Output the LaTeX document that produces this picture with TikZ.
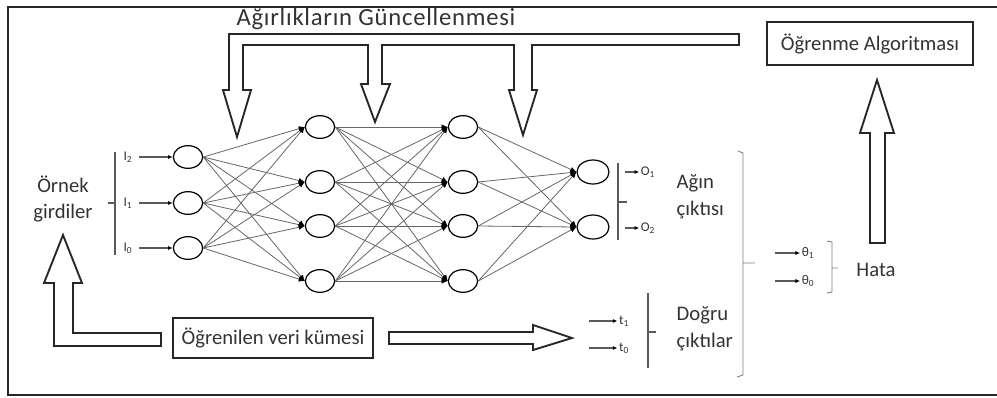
\documentclass[tikz,border=0pt]{standalone}
\usepackage{fontspec}
\setmainfont{Carlito}
\usetikzlibrary{arrows.meta,shapes.geometric}

\begin{document}
\begin{tikzpicture}[x=0.75pt, y=-0.75pt, font=\fontsize{15.5}{20}\selectfont, text=black!80,
  unit/.style={draw, ellipse, line width=0.9pt, minimum width=22pt, minimum height=17pt, inner sep=0pt},
  link/.style={black!60, line width=0.6pt, -{Latex[length=4.5pt,width=4pt,color=black]}},
  feed/.style={black!65, line width=0.8pt, -{Latex[length=3.5pt,width=3pt,color=black]}},
  lbl/.style={font=\fontsize{10}{11}\selectfont, inner sep=1pt},
  bar/.style={black!65, line width=1.5pt},
  brk/.style={black!50, line width=0.7pt},
  hollow/.style={draw=black!85, line width=1.4pt, fill=white, line join=miter},
  box/.style={draw=black!85, line width=1.4pt, inner sep=0pt}]
\useasboundingbox (0,0) rectangle (997,397);
\draw[black!85, line width=1.5pt] (1000,7) -| (8,395) -- (1000,395);

% network: 3 inputs, two hidden layers of 4, 2 outputs
\node[unit] (i2) at (188,157) {};
\node[unit] (i1) at (188,203) {};
\node[unit] (i0) at (188,248) {};
\foreach \k/\y in {1/127,2/182,3/226,4/281} {
  \node[unit] (h\k) at (320,\y) {};
  \node[unit] (g\k) at (463,\y) {};
}
\node[unit, minimum width=24pt, minimum height=18pt] (o1) at (593,172) {};
\node[unit, minimum width=24pt, minimum height=18pt] (o2) at (593,227) {};
\foreach \a in {0,1,2} \foreach \b in {1,...,4}
  \draw[link] (i\a.east) -- (h\b.west);
\foreach \a in {1,...,4} \foreach \b in {1,...,4}
  \draw[link] (h\a.east) -- (g\b.west);
\foreach \a in {1,...,4} \foreach \b in {1,2}
  \draw[link] (g\a.east) -- (o\b.west);

% inputs
\node[lbl] (li2) at (128,157) {I\textsubscript{2}};
\node[lbl] (li1) at (128,203) {I\textsubscript{1}};
\node[lbl] (li0) at (128,248) {I\textsubscript{0}};
\draw[feed, shorten <=4pt] (li2) -- (i2);
\draw[feed, shorten <=4pt] (li1) -- (i1);
\draw[feed, shorten <=4pt] (li0) -- (i0);
\draw[bar] (115,152) -- (115,255) (108,203) -- (115,203);
\node[align=center] (ex) at (63,199) {Örnek\\girdiler};

% outputs
\node[lbl] (lo1) at (648,172) {O\textsubscript{1}};
\node[lbl] (lo2) at (648,228) {O\textsubscript{2}};
\draw[feed] ([xshift=-11pt]lo1.west) -- (lo1.west);
\draw[feed] ([xshift=-11pt]lo2.west) -- (lo2.west);
\draw[bar] (618,163) -- (618,240) (618,202) -- (627,202);
\node[align=left, anchor=west] (net) at (672,197) {Ağın\\çıktısı};

% targets
\node[lbl] (t1) at (624,321) {t\textsubscript{1}};
\node[lbl] (t0) at (624,348) {t\textsubscript{0}};
\draw[feed] ([xshift=-21pt]t1.west) -- (t1.west);
\draw[feed] ([xshift=-21pt]t0.west) -- (t0.west);
\draw[bar] (648,293) -- (648,368) (648,332) -- (656,332);
\node[align=left, anchor=west] (tgt) at (672,329) {Doğru\\çıktılar};

% error
\draw[brk] (738,151) -- (743,153) -- (743,375) -- (737,377) (743,263) -- (755,263);
\node[lbl] (e1) at (808,253) {θ\textsubscript{1}};
\node[lbl] (e0) at (808,281) {θ\textsubscript{0}};
\draw[feed] ([xshift=-19pt]e1.west) -- (e1.west);
\draw[feed] ([xshift=-19pt]e0.west) -- (e0.west);
\draw[brk] (827,241) -- (832,242) -- (832,292) -- (827,293) (832,268) -- (838,268);
\node (err) at (876,270) {Hata};

% boxes and wide arrows
\node[box, minimum width=154pt, minimum height=32pt] (alg) at (870,43.5) {Öğrenme Algoritması};
\node[box, minimum width=150pt, minimum height=30pt] (data) at (273,338) {Öğrenilen veri kümesi};
\node (upd) at (376,19) {\fontsize{18.5}{20}\selectfont\addfontfeature{LetterSpace=3}Ağırlıkların Güncellenmesi};
\draw[hollow] (229,34) -- (739,34) -- (739,45) -- (532,45) -- (532,90) -- (537,90) -- (523,135)
  -- (509,90) -- (514,90) -- (514,45) -- (382,45) -- (382,84) -- (390,84) -- (375,122)
  -- (361,84) -- (368,84) -- (368,45) -- (243,45) -- (243,90) -- (251,90) -- (237,137)
  -- (223,90) -- (229,90) -- cycle;
\draw[hollow] (161,333) -- (73,333) -- (73,283) -- (82,283) -- (63,235) -- (44,283)
  -- (54,283) -- (54,346) -- (161,346) -- cycle;
\draw[hollow] (389,332) -- (533,332) -- (533,325) -- (572,338) -- (533,350) -- (533,344)
  -- (389,344) -- cycle;
\draw[hollow] (870,243) -- (870,133) -- (860,133) -- (877,80) -- (894,133) -- (885,133)
  -- (885,243) -- cycle;
\end{tikzpicture}
\end{document}
